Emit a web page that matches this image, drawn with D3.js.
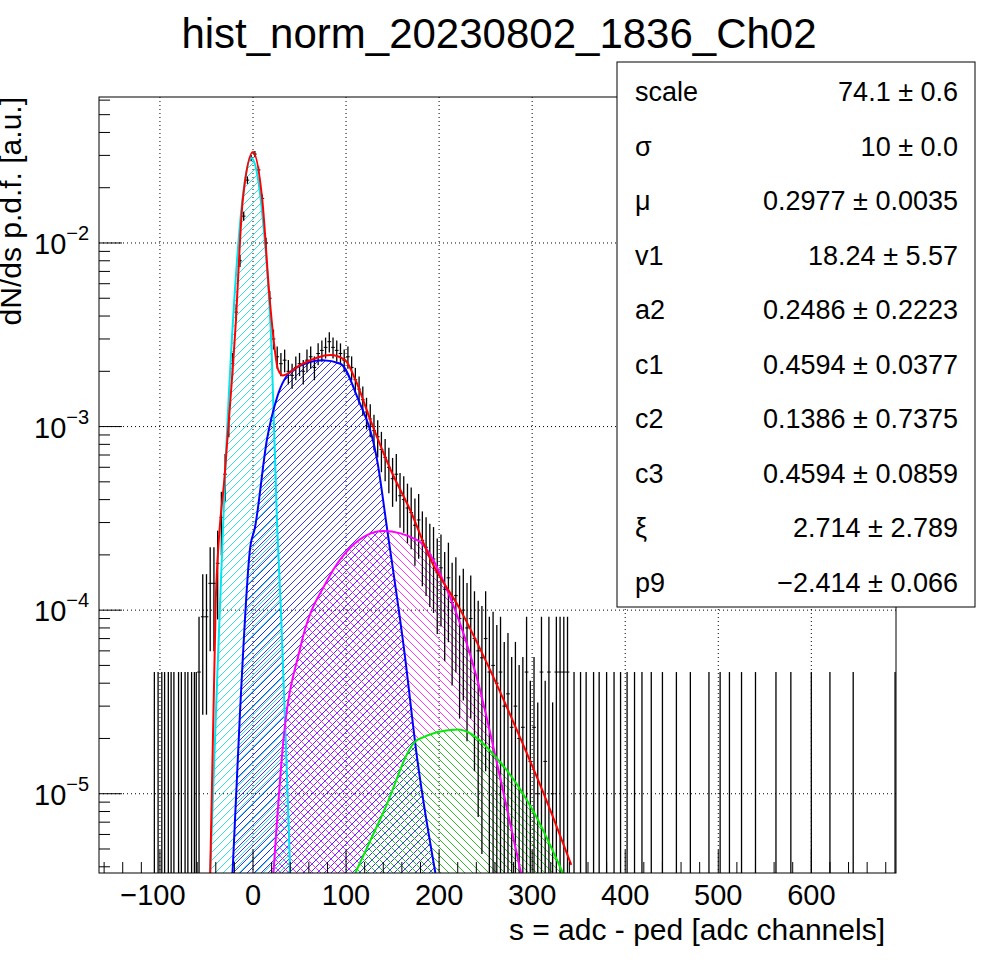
<!DOCTYPE html>
<meta charset="utf-8">
<script src="https://d3js.org/d3.v7.min.js"></script>
<style>body{margin:0;background:#fff}text{font-family:"Liberation Sans",Arial,sans-serif}</style>
<body>
<script>

// histogram, bins of 4 adc channels, values in units of 1e-4
var binCenters = d3.range(-58, 340, 4);
var binValues = [0.46,0.92,0.92,1.4,1.4,1.8,3.2,5.5,11,22,42,80,140,220,290,305,250,175,100,50,30,24,22,23,20,19,21,22,20,23,24,21,25,26,27,29,27,26,25,23,24,21,18,16,14,12,11,9.5,8.8,7.5,6.8,6.0,5.2,5.5,4.2,4.0,3.6,3.4,2.9,3.1,2.4,2.2,2.0,1.9,1.6,1.7,1.3,1.5,1.1,1.2,0.9,1.0,0.8,0.9,0.7,0.6,0.55,0.7,0.46,0.5,0.4,0.46,0.3,0.35,0.23,0.3,0.2,0.23,0.46,0.15,0.23,0.1,0.46,0.15,0.46,0.1,0.46,0.46,0.46,0.46];
// isolated single-count bins in the tails (drawn up to one count)
var singleBins = [-106,-102,-98,-95,-91,-88,-85,-80,-77,-73,-70,-66,-63,-61,345,352,358,366,372,380,388,395,402,410,418,428,440,455,470,490,502,512,525,540,562,578,600,620,645,690];
var oneCount = 4.6e-5;

// fit components [x, y]
var fitTotal = [[-46,3.7e-6],[-40,1.15e-4],[-30,5.8e-4],[-19,3.36e-3],[-11,0.0171],[0,0.0313],[10,0.0171],[18,4.9e-3],[27,2.04e-3],[32,1.9e-3],[51,2.17e-3],[83,2.45e-3],[99,2.3e-3],[110,1.8e-3],[126,1.09e-3],[148,5.8e-4],[169,3.5e-4],[191,1.88e-4],[223,1.0e-4],[255,4.7e-5],[288,1.97e-5],[315,9.3e-6],[342,4.1e-6]];
var fitPed = [[-46,3.7e-6],[-40,2.6e-5],[-30,5.5e-4],[-20,5.0e-3],[-10,0.0196],[-2,0.029],[0,0.0285],[10,0.0143],[20,2.6e-3],[26,2.8e-4],[30,1.0e-4],[36,1.5e-5],[40,3.7e-6]];
var fit1pe = [[-22,3.7e-6],[-14,2.75e-5],[-3,2.2e-4],[2,2.8e-4],[15,8.5e-4],[26,1.45e-3],[43,2.04e-3],[75,2.3e-3],[94,2.2e-3],[112,1.45e-3],[134,6.3e-4],[144,2.8e-4],[162,6.3e-5],[177,1.48e-5],[196,3.7e-6]];
var fit2pe = [[22,3.7e-6],[32,1.8e-5],[51,6.3e-5],[80,1.46e-4],[105,2.2e-4],[140,2.7e-4],[177,2.4e-4],[212,1.17e-4],[241,4.2e-5],[266,1.2e-5],[288,3.7e-6]];
var fit3pe = [[110,3.7e-6],[140,7.9e-6],[177,1.97e-5],[220,2.24e-5],[266,1.48e-5],[302,7.9e-6],[333,3.7e-6]];

var statNames = ["scale","σ","μ","v1","a2","c1","c2","c3","ξ","p9"];
var statValues = ["74.1 ± 0.6","10 ± 0.0","0.2977 ± 0.0035","18.24 ± 5.57","0.2486 ± 0.2223","0.4594 ± 0.0377","0.1386 ± 0.7375","0.4594 ± 0.0859","2.714 ± 2.789","−2.414 ± 0.066"];

var W = 996, H = 972;
var frame = {left: 99, right: 896, top: 97, bottom: 873};
var x = d3.scaleLinear().domain([-165.5, 691]).range([frame.left, frame.right]);
var y = d3.scaleLog().domain([3.7e-6, 0.0624]).range([frame.bottom, frame.top]);
var ymin = y.domain()[0];

var svg = d3.select("body").append("svg").attr("width", W).attr("height", H);
var defs = svg.append("defs");
defs.append("clipPath").attr("id", "clip").append("rect")
    .attr("x", frame.left).attr("y", frame.top)
    .attr("width", frame.right - frame.left).attr("height", frame.bottom - frame.top);

function hatch(id, color, step, back) {
    var p = defs.append("pattern").attr("id", id).attr("patternUnits", "userSpaceOnUse")
        .attr("width", step).attr("height", step);
    var d = back ? "M-1,-1L" + (step + 1) + "," + (step + 1)
                 : "M-1," + (step + 1) + "L" + (step + 1) + ",-1";
    p.append("path").attr("d", d).attr("stroke", color).attr("stroke-width", 0.8);
}
hatch("hCyan", "#00d8e0", 8, false);
hatch("hBlue", "#0000ff", 7, false);
hatch("hMag", "#ff00ff", 8, true);
hatch("hGreen", "#00dd00", 8, true);

// grid
var g = svg.append("g");
var xt = d3.range(-100, 700, 100);
g.selectAll(".gx").data(xt).enter().append("line")
    .attr("x1", x).attr("x2", x).attr("y1", frame.top).attr("y2", frame.bottom)
    .attr("stroke", "#000").attr("stroke-dasharray", "1,3");
var ydec = [1e-5, 1e-4, 1e-3, 1e-2];
g.selectAll(".gy").data(ydec).enter().append("line")
    .attr("y1", y).attr("y2", y).attr("x1", frame.left).attr("x2", frame.right)
    .attr("stroke", "#000").attr("stroke-dasharray", "1,3");

var plot = svg.append("g").attr("clip-path", "url(#clip)");
var area = d3.area().x(function(d){return x(d[0]);}).y0(frame.bottom).y1(function(d){return y(d[1]);}).curve(d3.curveMonotoneX);
var line = d3.line().x(function(d){return x(d[0]);}).y(function(d){return y(d[1]);}).curve(d3.curveMonotoneX);

[[fitPed,"hCyan"],[fit1pe,"hBlue"],[fit2pe,"hMag"],[fit3pe,"hGreen"]].forEach(function(c){
    plot.append("path").datum(c[0]).attr("d", area).attr("fill", "url(#" + c[1] + ")");
});

// histogram error bars
binCenters.forEach(function(c, i){
    var v = binValues[i] * 1e-4, e = Math.sqrt(v * oneCount);
    var lo = Math.max(v - e, ymin), hi = v + e;
    plot.append("line").attr("x1", x(c)).attr("x2", x(c)).attr("y1", y(lo)).attr("y2", y(hi))
        .attr("stroke", "#000").attr("stroke-width", 1.3);
    plot.append("line").attr("x1", x(c - 2)).attr("x2", x(c + 2)).attr("y1", y(v)).attr("y2", y(v))
        .attr("stroke", "#000").attr("stroke-width", 1);
});
singleBins.forEach(function(c){
    plot.append("line").attr("x1", x(c)).attr("x2", x(c)).attr("y1", y(ymin)).attr("y2", y(oneCount))
        .attr("stroke", "#000").attr("stroke-width", 1.3);
});

[[fitPed,"#00e5ee"],[fit1pe,"#0000ff"],[fit2pe,"#ff00ff"],[fit3pe,"#00ee00"],[fitTotal,"#ff0000"]].forEach(function(c){
    plot.append("path").datum(c[0]).attr("d", line).attr("fill", "none").attr("stroke", c[1]).attr("stroke-width", 2);
});

// frame and ticks
svg.append("rect").attr("x", frame.left).attr("y", frame.top)
    .attr("width", frame.right - frame.left).attr("height", frame.bottom - frame.top)
    .attr("fill", "none").attr("stroke", "#000");
var ax = svg.append("g");
d3.range(-160, 700, 20).forEach(function(v){
    var major = v % 100 === 0;
    if (x(v) < frame.left || x(v) > frame.right) return;
    ax.append("line").attr("x1", x(v)).attr("x2", x(v)).attr("y1", frame.bottom).attr("y2", frame.bottom - (major ? 23 : 11)).attr("stroke", "#000");
});
xt.forEach(function(v){
    ax.append("text").attr("x", x(v) - (v < 0 ? 7 : 0)).attr("y", 905).attr("text-anchor", "middle")
        .attr("font-size", 29).text(v < 0 ? "−" + (-v) : v);
});
[-6, -5, -4, -3, -2].forEach(function(p){
    for (var m = 1; m < 10; m++) {
        var v = m * Math.pow(10, p);
        if (v < ymin || v > y.domain()[1]) continue;
        ax.append("line").attr("x1", frame.left).attr("x2", frame.left + (m === 1 ? 23 : 11))
            .attr("y1", y(v)).attr("y2", y(v)).attr("stroke", "#000");
    }
});
ydec.forEach(function(v){
    var t = ax.append("text").attr("x", 34).attr("y", y(v) + 11).attr("font-size", 29);
    t.append("tspan").text("10");
    t.append("tspan").attr("dy", -14).attr("font-size", 20).text("−" + Math.round(-Math.log10(v)));
});

svg.append("text").attr("x", 885).attr("y", 940).attr("text-anchor", "end").attr("font-size", 30)
    .text("s = adc - ped [adc channels]");
svg.append("text").attr("transform", "translate(21,97) rotate(-90)").attr("text-anchor", "end").attr("font-size", 30)
    .text("dN/ds p.d.f. [a.u.]");
svg.append("text").attr("x", 499).attr("y", 48).attr("text-anchor", "middle").attr("font-size", 42)
    .text("hist_norm_20230802_1836_Ch02");

// stats box
var box = svg.append("g");
box.append("rect").attr("x", 617).attr("y", 62).attr("width", 358).attr("height", 545)
    .attr("fill", "#fff").attr("stroke", "#000");
statNames.forEach(function(n, i){
    var yy = 101 + i * 54.5;
    box.append("text").attr("x", 635).attr("y", yy).attr("font-size", 27).text(n);
    box.append("text").attr("x", 958).attr("y", yy).attr("text-anchor", "end").attr("font-size", 27).text(statValues[i]);
});
</script>
</body>
</html>
